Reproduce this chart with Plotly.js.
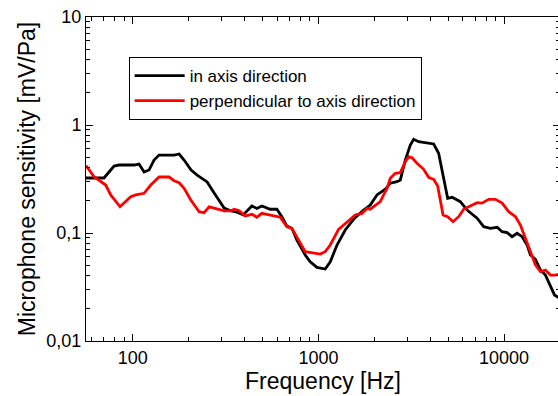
<!DOCTYPE html>
<html>
<head>
<meta charset="utf-8">
<script src="https://cdn.plot.ly/plotly-3.0.1.min.js"></script>
<style>
html,body{margin:0;padding:0;overflow:hidden;background:#fff;}
#chart{width:562px;height:396px;}
</style>
</head>
<body>
<div id="chart"></div>
<script>
// Series: in axis direction (black)
const axisFreq = [56, 70, 79.3, 84.4, 101.6, 108.1, 115.1, 122.4, 130.2, 138.6, 167, 177.7, 189, 206.2, 222.2, 251.6, 274.4, 310.6, 338.8, 365, 393.3, 438, 466.2, 496, 549.7, 597.3, 635.5, 676.3, 719.6, 765.6, 849, 903.3, 981.5, 1088, 1158, 1259, 1395, 1546, 1751, 1902, 2067, 2291, 2438, 2650, 2761, 2937, 3125, 3257, 3465, 3923, 4174, 4440, 4634, 4828, 4966, 5246, 5812, 6318, 7152, 7763, 8437, 9170, 9755, 10380, 11040, 11750, 12500, 13300, 13860, 14750, 15690, 16700, 17770, 18670, 19550, 20000];
const axisSens = [0.323, 0.323, 0.417, 0.426, 0.426, 0.435, 0.367, 0.383, 0.474, 0.527, 0.527, 0.539, 0.474, 0.383, 0.344, 0.297, 0.235, 0.170, 0.160, 0.156, 0.147, 0.178, 0.169, 0.178, 0.166, 0.166, 0.1416, 0.116, 0.1105, 0.0861, 0.0626, 0.0542, 0.0481, 0.0464, 0.0542, 0.0774, 0.1066, 0.134, 0.163, 0.1816, 0.225, 0.254, 0.289, 0.299, 0.310, 0.474, 0.653, 0.737, 0.700, 0.677, 0.667, 0.547, 0.383, 0.268, 0.2097, 0.214, 0.195, 0.163, 0.137, 0.1143, 0.1105, 0.113, 0.1028, 0.1007, 0.0924, 0.0994, 0.0924, 0.0774, 0.0626, 0.0571, 0.0454, 0.0408, 0.0323, 0.0267, 0.0254, 0.0254];

// Series: perpendicular to axis direction (red)
const perpFreq = [56, 61.9, 71.5, 76.1, 85.4, 97.5, 103.8, 115.1, 125, 138.6, 156.9, 167, 177.7, 189, 205.4, 227.8, 242.3, 257.8, 274.4, 310.6, 337.5, 351.6, 374.1, 403, 438, 466.2, 496, 622.3, 676.3, 719.6, 849, 1023, 1088, 1158, 1283, 1395, 1579, 1716, 1826, 1902, 2025, 2154, 2244, 2341, 2438, 2594, 2761, 2937, 3060, 3192, 3396, 3687, 3923, 4174, 4387, 4536, 4690, 4966, 5309, 5690, 6058, 6443, 7152, 7608, 8262, 8977, 9755, 10590, 11510, 12240, 13030, 13860, 14750, 15690, 16700, 17770, 18900, 20000];
const perpSens = [0.42, 0.332, 0.278, 0.225, 0.175, 0.217, 0.225, 0.233, 0.278, 0.330, 0.330, 0.305, 0.292, 0.259, 0.202, 0.1575, 0.154, 0.175, 0.170, 0.160, 0.160, 0.166, 0.161, 0.1437, 0.149, 0.140, 0.152, 0.140, 0.1143, 0.1105, 0.0671, 0.0639, 0.0671, 0.0774, 0.108, 0.123, 0.1468, 0.152, 0.169, 0.166, 0.1816, 0.195, 0.225, 0.259, 0.321, 0.357, 0.362, 0.457, 0.509, 0.498, 0.442, 0.389, 0.328, 0.314, 0.272, 0.202, 0.1468, 0.1416, 0.1272, 0.1416, 0.166, 0.175, 0.191, 0.189, 0.205, 0.205, 0.189, 0.1575, 0.1416, 0.1186, 0.0893, 0.0649, 0.0506, 0.0438, 0.0454, 0.0408, 0.0408, 0.0419];

const seriesNames = ['in axis direction', 'perpendicular to axis direction'];

// Tick labels
const xTickVals = [100, 1000, 10000];
const xTickText = ['100', '1000', '10000'];
const yTickVals = [0.01, 0.1, 1, 10];
const yTickText = ['0,01', '0,1', '1', '10'];
const xMinorVals = [60, 70, 80, 90, 200, 300, 400, 500, 600, 700, 800, 900, 2000, 3000, 4000, 5000, 6000, 7000, 8000, 9000, 20000];
const yMinorVals = [0.02, 0.03, 0.04, 0.05, 0.06, 0.07, 0.08, 0.09, 0.2, 0.3, 0.4, 0.5, 0.6, 0.7, 0.8, 0.9, 2, 3, 4, 5, 6, 7, 8, 9];

const font = '"Liberation Sans", Arial, sans-serif';

const traces = [
  {x: axisFreq, y: axisSens, name: seriesNames[0], mode: 'lines', line: {color: '#000000', width: 2.8}},
  {x: perpFreq, y: perpSens, name: seriesNames[1], mode: 'lines', line: {color: '#ff0000', width: 2.8}}
];

const axCommon = {
  type: 'log',
  showgrid: false,
  zeroline: false,
  showline: true,
  linecolor: '#000',
  linewidth: 1,
  mirror: 'ticks',
  ticks: 'inside',
  ticklen: 7,
  tickcolor: '#000',
  tickwidth: 1,
  tickmode: 'array',
  tickfont: {family: font, size: 18, color: '#000'}
};

const layout = {
  width: 562,
  height: 396,
  margin: {l: 86, r: 2, t: 17, b: 55},
  paper_bgcolor: '#fff',
  plot_bgcolor: '#fff',
  showlegend: true,
  xaxis: Object.assign({}, axCommon, {
    range: [Math.log10(56), Math.log10(20000)],
    tickvals: xTickVals,
    ticktext: xTickText,
    minor: {tickmode: 'array', tickvals: xMinorVals, ticks: 'inside', ticklen: 4, tickcolor: '#000', showgrid: false},
    title: {text: 'Frequency [Hz]', font: {family: font, size: 23, color: '#000'}, standoff: 6}
  }),
  yaxis: Object.assign({}, axCommon, {
    range: [-2, 1],
    tickvals: yTickVals,
    ticktext: yTickText,
    minor: {tickmode: 'array', tickvals: yMinorVals, ticks: 'inside', ticklen: 4, tickcolor: '#000', showgrid: false},
    title: {text: 'Microphone sensitivity [mV/Pa]', font: {family: font, size: 23, color: '#000'}, standoff: 4}
  }),
  legend: {
    x: 0.09, y: 0.8765, xanchor: 'left', yanchor: 'top',
    bgcolor: '#fff', bordercolor: '#000', borderwidth: 1,
    font: {family: font, size: 17, color: '#000'},
    itemwidth: 50,
    tracegroupgap: 0
  }
};

Plotly.newPlot('chart', traces, layout, {displayModeBar: false, staticPlot: true});
</script>
</body>
</html>
